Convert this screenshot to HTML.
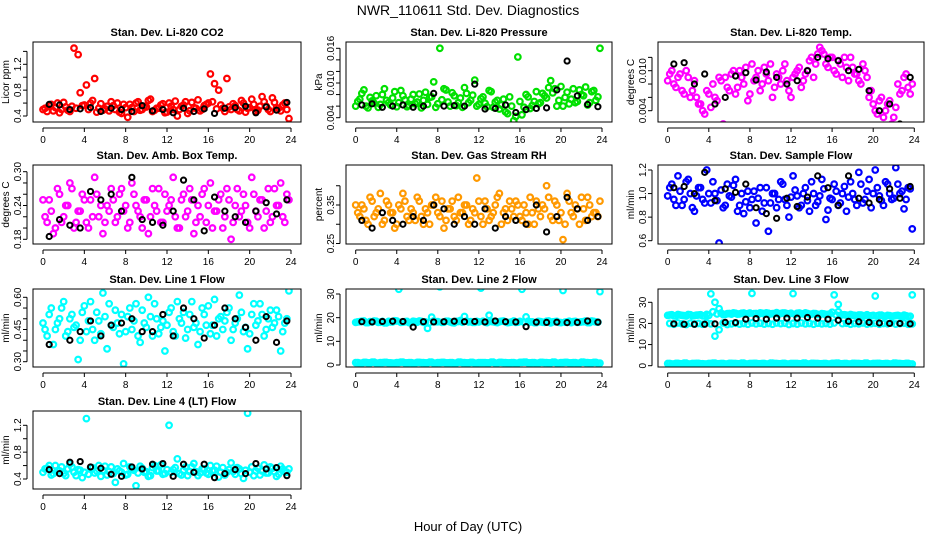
<!DOCTYPE html>
<html><head><meta charset="utf-8">
<style>
body{margin:0;background:#fff;}
svg{display:block;font-family:"Liberation Sans",Arial,sans-serif;}
</style></head>
<body>
<svg id="chart" width="936" height="540" viewBox="0 0 936 540" xmlns="http://www.w3.org/2000/svg">
<rect x="0" y="0" width="936" height="540" fill="#fff"/>
<text x="468" y="15" text-anchor="middle" font-size="14">NWR_110611  Std. Dev. Diagnostics</text>
<text x="468" y="531" text-anchor="middle" font-size="13">Hour of Day (UTC)</text>
</svg>
<script>
const hoursColored = [0.2,0.6,1.0,1.4,1.8,2.2,2.6,3.0,3.4,3.8,4.2,4.6,5.0,5.4,5.8,6.2,6.6,7.0,7.4,7.8,8.2,8.6,9.0,9.4,9.8,10.2,10.6,11.0,11.4,11.8,12.2,12.6,13.0,13.4,13.8,14.2,14.6,15.0,15.4,15.8,16.2,16.6,17.0,17.4,17.8,18.2,18.6,19.0,19.4,19.8,20.2,20.6,21.0,21.4,21.8,22.2,22.6,23.0,23.4,23.8];
const hoursColored2 = [0.0,0.4,0.8,1.2,1.6,2.0,2.4,2.8,3.2,3.6,4.0,4.4,4.8,5.2,5.6,6.0,6.4,6.8,7.2,7.6,8.0,8.4,8.8,9.2,9.6,10.0,10.4,10.8,11.2,11.6,12.0,12.4,12.8,13.2,13.6,14.0,14.4,14.8,15.2,15.6,16.0,16.4,16.8,17.2,17.6,18.0,18.4,18.8,19.2,19.6,20.0,20.4,20.8,21.2,21.6,22.0,22.4,22.8,23.2,23.6];
const hoursBlack = [0.6,1.6,2.6,3.6,4.6,5.6,6.6,7.6,8.6,9.6,10.6,11.6,12.6,13.6,14.6,15.6,16.6,17.6,18.6,19.6,20.6,21.6,22.6,23.6];
const xTicks = [0,4,8,12,16,20,24];

const co2 = [0.52,0.56,0.48,0.60,0.50,0.54,0.47,1.45,1.35,0.56,0.88,0.60,0.98,0.52,0.49,0.55,0.62,0.50,0.46,0.58,0.38,0.53,0.60,0.49,0.55,0.64,0.47,0.52,0.57,0.45,0.60,0.50,0.40,0.55,0.62,0.48,0.53,0.65,0.50,0.58,1.05,0.90,0.80,0.52,0.98,0.50,0.56,0.48,0.60,0.52,0.66,0.47,0.55,0.62,0.50,0.68,0.53,0.48,0.60,0.36];
const co2b = [0.50,0.47,0.58,0.53,0.45,0.61,0.49,0.55,0.52,0.76,0.57,0.50,0.64,0.46,0.59,0.51,0.48,0.56,0.60,0.44,0.53,0.58,0.47,0.62,0.50,0.54,0.66,0.49,0.52,0.59,0.46,0.55,0.63,0.50,0.57,0.44,0.61,0.52,0.48,0.56,0.60,0.62,0.51,0.57,0.47,0.54,0.59,0.50,0.64,0.46,0.53,0.58,0.49,0.70,0.55,0.47,0.61,0.52,0.57,0.50];
const co2B = [0.58,0.57,0.50,0.51,0.53,0.47,0.52,0.50,0.47,0.56,0.48,0.50,0.45,0.52,0.47,0.51,0.44,0.52,0.53,0.55,0.45,0.54,0.49,0.61];
const pres = [0.0068,0.0082,0.0060,0.0075,0.0065,0.0058,0.0080,0.0070,0.0062,0.0085,0.0066,0.0078,0.0059,0.0072,0.0064,0.0081,0.0070,0.0063,0.0076,0.0058,0.0160,0.0090,0.0067,0.0083,0.0061,0.0074,0.0092,0.0066,0.0079,0.0060,0.0073,0.0065,0.0087,0.0058,0.0070,0.0062,0.0050,0.0076,0.0035,0.0145,0.0045,0.0080,0.0056,0.0068,0.0064,0.0082,0.0074,0.0104,0.0090,0.0070,0.0060,0.0084,0.0072,0.0066,0.0088,0.0078,0.0062,0.0085,0.0070,0.0160];
const pres2 = [0.0060,0.0072,0.0088,0.0057,0.0069,0.0078,0.0063,0.0090,0.0066,0.0074,0.0059,0.0087,0.0071,0.0061,0.0080,0.0067,0.0057,0.0084,0.0075,0.0102,0.0064,0.0071,0.0088,0.0060,0.0078,0.0066,0.0058,0.0082,0.0070,0.0105,0.0063,0.0076,0.0059,0.0085,0.0067,0.0055,0.0072,0.0047,0.0060,0.0042,0.0068,0.0058,0.0076,0.0061,0.0085,0.0066,0.0078,0.0092,0.0083,0.0060,0.0094,0.0075,0.0064,0.0090,0.0068,0.0080,0.0093,0.0066,0.0087,0.0076];
const presB = [0.0062,0.0064,0.0058,0.0060,0.0062,0.0058,0.0060,0.0082,0.0060,0.0061,0.0060,0.0098,0.0055,0.0056,0.0062,0.0049,0.0054,0.0056,0.0057,0.0088,0.0138,0.0078,0.0063,0.0059];
const ltemp = [0.0095,0.0080,0.0090,0.0070,0.0100,0.0060,0.0085,0.0050,0.0040,0.0070,0.0045,0.0060,0.0090,0.0020,0.0075,0.0095,0.0065,0.0100,0.0080,0.0055,0.0110,0.0090,0.0070,0.0105,0.0085,0.0060,0.0095,0.0080,0.0110,0.0070,0.0090,0.0100,0.0075,0.0095,0.0115,0.0090,0.0125,0.0130,0.0110,0.0120,0.0100,0.0115,0.0090,0.0105,0.0120,0.0095,0.0085,0.0110,0.0090,0.0070,0.0040,0.0055,0.0030,0.0050,0.0020,0.0045,0.0065,0.0090,0.0075,0.0080];
const ltemp2 = [0.0085,0.0100,0.0075,0.0095,0.0065,0.0090,0.0070,0.0060,0.0050,0.0035,0.0065,0.0080,0.0055,0.0085,0.0090,0.0070,0.0100,0.0075,0.0090,0.0105,0.0065,0.0085,0.0100,0.0080,0.0095,0.0110,0.0075,0.0090,0.0100,0.0085,0.0060,0.0095,0.0105,0.0085,0.0100,0.0120,0.0110,0.0135,0.0125,0.0105,0.0120,0.0095,0.0110,0.0120,0.0085,0.0105,0.0095,0.0080,0.0100,0.0060,0.0050,0.0035,0.0060,0.0040,0.0055,0.0030,0.0080,0.0070,0.0095,0.0065];
const ltempB = [0.0110,0.0112,0.0080,0.0095,0.0050,0.0060,0.0092,0.0097,0.0086,0.0098,0.0090,0.0080,0.0085,0.0100,0.0120,0.0118,0.0115,0.0100,0.0102,0.0070,0.0040,0.0050,0.0020,0.0090];
const amb = [0.22,0.25,0.19,0.27,0.21,0.24,0.28,0.20,0.23,0.26,0.21,0.25,0.29,0.22,0.19,0.24,0.27,0.21,0.26,0.23,0.20,0.28,0.24,0.22,0.25,0.19,0.27,0.23,0.21,0.26,0.24,0.29,0.20,0.25,0.22,0.27,0.19,0.24,0.26,0.21,0.28,0.23,0.25,0.20,0.27,0.18,0.24,0.22,0.26,0.21,0.29,0.23,0.25,0.20,0.27,0.22,0.24,0.28,0.21,0.25];
const amb2 = [0.25,0.21,0.23,0.20,0.26,0.22,0.24,0.27,0.21,0.23,0.25,0.20,0.22,0.26,0.24,0.21,0.23,0.25,0.22,0.27,0.24,0.21,0.26,0.23,0.20,0.25,0.22,0.24,0.27,0.21,0.23,0.25,0.22,0.20,0.26,0.23,0.25,0.21,0.22,0.27,0.24,0.20,0.23,0.26,0.22,0.25,0.21,0.27,0.23,0.24,0.20,0.26,0.22,0.25,0.23,0.21,0.27,0.24,0.22,0.26];
const ambB = [0.185,0.215,0.205,0.200,0.265,0.250,0.260,0.230,0.290,0.215,0.210,0.205,0.230,0.285,0.250,0.195,0.255,0.230,0.220,0.210,0.230,0.245,0.225,0.250];
const rh = [0.33,0.35,0.31,0.37,0.32,0.34,0.30,0.36,0.33,0.29,0.35,0.38,0.32,0.34,0.31,0.36,0.30,0.33,0.35,0.37,0.32,0.29,0.34,0.36,0.31,0.33,0.35,0.30,0.34,0.42,0.32,0.36,0.31,0.33,0.37,0.30,0.34,0.36,0.32,0.35,0.31,0.33,0.37,0.30,0.34,0.35,0.40,0.32,0.36,0.31,0.26,0.38,0.33,0.35,0.30,0.34,0.37,0.32,0.33,0.36];
const rh2 = [0.35,0.32,0.34,0.30,0.36,0.33,0.38,0.31,0.35,0.33,0.30,0.34,0.36,0.31,0.33,0.37,0.32,0.34,0.30,0.35,0.33,0.36,0.31,0.34,0.32,0.37,0.33,0.35,0.31,0.33,0.36,0.30,0.34,0.32,0.35,0.38,0.33,0.31,0.34,0.36,0.32,0.35,0.30,0.33,0.36,0.32,0.34,0.37,0.31,0.35,0.33,0.30,0.36,0.32,0.34,0.37,0.31,0.35,0.33,0.32];
const rhB = [0.31,0.29,0.33,0.31,0.30,0.32,0.31,0.35,0.34,0.30,0.32,0.30,0.34,0.29,0.32,0.31,0.30,0.35,0.28,0.32,0.37,0.34,0.31,0.32];
const sflow = [1.05,0.95,1.15,0.90,1.10,1.00,0.85,1.05,0.95,1.20,0.92,1.00,0.58,0.88,1.08,0.97,1.12,0.90,0.83,1.02,0.95,0.75,1.05,0.92,0.68,1.00,0.88,1.10,0.95,0.80,1.15,0.98,0.90,1.05,0.85,1.00,0.93,1.12,0.78,0.96,1.08,0.90,1.00,0.85,1.10,0.95,1.18,0.92,1.02,0.88,1.20,0.98,0.90,1.08,0.95,1.22,1.00,0.87,1.05,0.70];
const sflow2 = [0.98,1.08,0.90,1.02,0.95,1.12,0.88,0.98,1.05,0.92,1.00,1.10,0.94,1.03,0.90,0.98,1.07,0.85,1.00,0.93,0.88,1.02,0.96,0.85,1.05,0.92,1.00,0.95,1.08,0.90,0.97,1.03,0.88,1.00,0.94,1.10,0.90,0.98,1.04,0.86,0.95,1.02,0.92,1.06,0.97,1.00,0.90,1.08,0.95,1.12,1.00,1.05,0.94,1.10,1.00,0.96,1.08,1.02,0.95,1.04];
const sflowB = [1.05,1.06,1.00,1.18,0.94,1.04,1.01,1.08,0.88,0.83,0.79,0.96,0.89,0.97,1.15,1.05,0.90,1.15,0.96,0.92,0.95,1.04,0.96,1.06];
const line1 = [0.45,0.52,0.38,0.48,0.55,0.42,0.50,0.46,0.31,0.53,0.44,0.58,0.40,0.49,0.62,0.36,0.47,0.54,0.43,0.29,0.51,0.45,0.57,0.39,0.48,0.60,0.42,0.50,0.46,0.35,0.53,0.44,0.58,0.48,0.41,0.52,0.46,0.38,0.55,0.47,0.43,0.59,0.50,0.45,0.53,0.40,0.48,0.61,0.44,0.36,0.52,0.47,0.57,0.42,0.50,0.46,0.54,0.35,0.48,0.63];
const line1b = [0.48,0.42,0.55,0.45,0.50,0.58,0.44,0.52,0.47,0.40,0.56,0.49,0.45,0.53,0.43,0.51,0.57,0.46,0.48,0.52,0.44,0.55,0.49,0.42,0.54,0.46,0.51,0.57,0.43,0.49,0.47,0.55,0.42,0.50,0.53,0.45,0.58,0.48,0.44,0.52,0.56,0.47,0.42,0.51,0.49,0.55,0.45,0.50,0.53,0.46,0.43,0.57,0.49,0.52,0.45,0.54,0.48,0.51,0.44,0.50];
const line1B = [0.38,0.66,0.40,0.44,0.49,0.42,0.47,0.48,0.50,0.44,0.44,0.52,0.42,0.55,0.50,0.41,0.47,0.55,0.50,0.46,0.40,0.51,0.39,0.49];
const line2Hi = [18.2,18.5,17.9,18.3,18.6,18.0,18.4,17.8,18.2,18.7,32.0,18.1,18.4,17.9,18.3,18.6,18.0,15.5,20.2,18.3,33.0,18.1,18.5,17.9,18.4,18.8,20.5,18.2,18.0,18.4,32.5,18.1,21.0,18.3,17.9,18.5,18.2,18.0,18.6,18.1,32.0,20.3,18.2,17.9,18.4,18.1,18.5,17.8,18.3,18.0,31.5,18.2,17.9,18.4,18.1,18.3,17.9,18.6,18.2,31.0];
const line2Hi2 = [18.0,18.3,18.6,17.9,18.2,18.5,18.1,17.8,18.4,18.2,18.6,18.0,18.3,17.9,18.5,18.1,18.4,18.2,17.9,18.6,18.3,18.0,18.5,18.2,17.8,18.4,18.1,18.6,18.3,18.0,18.2,18.5,17.9,18.4,18.1,18.3,18.6,17.9,18.2,18.0,18.4,18.1,18.5,18.2,17.9,18.3,18.0,18.6,18.2,18.4,17.9,18.1,18.5,18.3,18.0,18.2,18.6,17.9,18.4,18.1];
const line2Lo = [1.0,0.8,1.1,0.9,1.2,0.8,1.0,1.1,0.9,0.8,1.0,1.2,0.9,1.0,0.8,1.1,1.0,0.9,1.2,0.8,1.0,1.1,0.9,1.0,0.8,1.2,1.0,0.9,1.1,0.8,1.0,1.0,0.9,1.2,0.8,1.1,1.0,0.9,1.0,0.8,1.1,1.2,0.9,1.0,0.8,1.1,1.0,0.9,1.2,0.8,1.0,1.1,0.9,1.0,0.8,1.2,1.0,0.9,1.1,0.8];
const line2B = [18.3,18.2,18.4,18.5,18.4,16.0,18.3,18.2,18.3,18.5,18.3,18.4,18.2,18.6,18.3,18.2,16.2,18.1,18.0,18.1,17.9,18.0,18.6,18.1];
const line3Hi = [24.0,23.6,24.2,23.8,23.5,24.1,23.7,24.0,23.6,24.3,34.0,30.0,27.0,24.2,24.6,24.4,24.8,24.5,24.9,24.6,34.2,24.7,25.0,24.5,24.8,24.6,25.1,24.7,24.9,24.5,34.1,24.8,24.6,25.0,24.4,24.7,24.3,24.6,24.2,24.5,33.5,29.0,24.1,23.9,24.2,23.8,24.0,23.7,24.1,23.6,33.0,23.9,23.5,23.8,23.4,23.7,23.5,23.9,23.3,33.5];
const line3Hi2 = [23.8,24.1,23.5,24.0,23.7,24.2,23.6,23.9,24.1,23.5,23.8,25.5,24.5,24.9,24.3,24.7,25.0,24.4,24.8,24.5,24.9,24.6,24.3,24.8,25.0,24.5,24.7,24.4,24.9,24.6,24.8,24.3,24.9,24.5,24.7,24.4,24.6,24.2,24.5,24.3,25.3,24.0,23.8,24.1,23.7,23.9,23.6,24.0,23.7,23.5,23.8,23.6,23.9,23.4,23.7,23.5,23.8,23.3,23.6,23.4];
const line3Mid = [20.0,19.6,20.2,19.8,19.5,20.1,19.7,20.0,19.6,20.3,19.8,14.0,17.0,20.2,19.5,19.8,20.1,19.7,20.0,19.6,20.2,19.8,20.1,19.7,20.0,19.6,20.2,19.9,20.1,19.5,20.0,19.7,20.2,19.8,20.0,19.6,20.1,19.8,20.0,19.7,20.2,25.5,19.9,20.1,19.6,20.0,19.8,20.2,19.7,19.9,20.1,19.6,20.0,19.8,20.2,19.7,19.9,20.1,19.6,19.8];
const line3Lo = [1.0,0.8,1.1,0.9,1.2,0.8,1.0,1.1,0.9,0.8,1.0,1.2,0.9,1.0,0.8,1.1,1.0,0.9,1.2,0.8,1.0,1.1,0.9,1.0,0.8,1.2,1.0,0.9,1.1,0.8,1.0,1.0,0.9,1.2,0.8,1.1,1.0,0.9,1.0,0.8,1.1,1.2,0.9,1.0,0.8,1.1,1.0,0.9,1.2,0.8,1.0,1.1,0.9,1.0,0.8,1.2,1.0,0.9,1.1,0.8];
const line3B = [19.8,19.6,19.6,19.6,19.8,20.5,20.4,22.0,22.3,22.0,22.5,22.5,22.5,22.8,22.5,22.0,21.5,21.0,20.8,20.5,20.2,20.0,20.0,19.8];
const line4 = [0.55,0.60,0.48,0.52,0.58,0.45,0.62,0.50,0.54,0.42,1.30,0.57,0.49,0.60,0.53,0.46,0.58,0.35,0.52,0.63,0.47,0.55,0.30,0.59,0.50,0.44,0.57,0.52,0.61,0.48,1.20,0.54,0.70,0.46,0.58,0.51,0.63,0.45,0.55,0.49,0.60,0.53,0.43,0.57,0.50,0.64,0.47,0.55,0.41,1.38,0.58,0.52,0.46,0.61,0.49,0.56,0.44,0.59,0.51,0.55];
const line4b = [0.50,0.56,0.46,0.60,0.52,0.48,0.55,0.58,0.45,0.53,0.50,0.47,0.57,0.52,0.44,0.59,0.51,0.48,0.55,0.50,0.46,0.58,0.53,0.49,0.56,0.51,0.45,0.60,0.52,0.47,0.54,0.50,0.57,0.48,0.53,0.45,0.58,0.51,0.49,0.55,0.47,0.52,0.59,0.50,0.46,0.54,0.51,0.57,0.48,0.53,0.50,0.45,0.56,0.52,0.49,0.58,0.51,0.47,0.55,0.50];
const line4B = [0.54,0.48,0.65,0.66,0.58,0.56,0.47,0.44,0.58,0.55,0.62,0.63,0.44,0.62,0.50,0.62,0.42,0.48,0.54,0.48,0.63,0.55,0.57,0.45];

const yTicksCO2 = [0.4,0.6,0.8,1.0,1.2,1.4];
const yLabCO2 = ["0.4","","0.8","","1.2",""];
const yTicksPres = [0.004,0.006,0.008,0.010,0.012,0.014,0.016];
const yLabPres = ["0.004","","","0.010","","","0.016"];
const yTicksTemp = [0.004,0.006,0.008,0.010,0.012];
const yLabTemp = ["0.004","","","0.010",""];
const yTicksAmb = [0.18,0.20,0.22,0.24,0.26,0.28,0.30];
const yLabAmb = ["0.18","","","0.24","","","0.30"];
const yTicksRH = [0.25,0.30,0.35,0.40];
const yLabRH = ["0.25","","0.35",""];
const yTicksFlow = [0.6,0.8,1.0,1.2];
const yLabFlow = ["0.6","0.8","1.0","1.2"];
const yTicksL1 = [0.30,0.35,0.40,0.45,0.50,0.55,0.60];
const yLabL1 = ["0.30","","","0.45","","","0.60"];
const yTicksL2 = [0,10,20,30];
const yLabL2 = ["0","10","20","30"];
const yTicksL4 = [0.4,0.6,0.8,1.0,1.2];
const yLabL4 = ["0.4","","0.8","","1.2"];

const svg = document.getElementById('chart');
const NS = 'http://www.w3.org/2000/svg';
function mk(tag, attrs, parent){
  const e = document.createElementNS(NS, tag);
  for (const k in attrs) e.setAttribute(k, attrs[k]);
  (parent||svg).appendChild(e);
  return e;
}
const cols = [{l:33,r:301,x0:43,x24:291},{l:346,r:612,x0:355.7,x24:602},{l:658,r:924,x0:667.7,x24:914.3}];
const rows = [{t:42,b:122},{t:165,b:244},{t:289,b:367},{t:411,b:489}];

function panel(key, c, r, title, ylab, cal, yt, yl, series, black){
  const C = cols[c], R = rows[r];
  const g = mk('g', {});
  
  
  const xs = h => C.x0 + (C.x24 - C.x0) * h / 24;
  const ys = v => cal[1] + (v - cal[0]) * (cal[3] - cal[1]) / (cal[2] - cal[0]);
  const clip = mk('clipPath', {id: 'clip-' + key}, g);
  mk('rect', {x: C.l, y: R.t, width: C.r - C.l, height: R.b - R.t}, clip);
  const pts = mk('g', {'clip-path': 'url(#clip-' + key + ')'}, g);
  
  
  series.forEach(s => {
    s.vals.forEach((v, i) => {
      const p = mk('circle', {cx: xs(s.hours[i]), cy: ys(v), r: 2.8, fill: 'none', stroke: s.color, 'stroke-width': 2.2}, pts);
      
      
    });
  });
  black.forEach((v, i) => {
    const p = mk('circle', {cx: xs(hoursBlack[i]), cy: ys(v), r: 2.6, fill: 'none', stroke: '#000', 'stroke-width': 2}, pts);
    
    
  });
  const box = mk('rect', {x: C.l, y: R.t, width: C.r - C.l, height: R.b - R.t, fill: 'none', stroke: '#000', 'stroke-width': 1}, g);
  
  
  const t = mk('text', {x: (C.l + C.r) / 2, y: R.t - 6, 'text-anchor': 'middle', 'font-size': 11, 'font-weight': 'bold'}, g);
  t.textContent = title;
  
  
  const yt2 = mk('text', {transform: 'translate(' + (C.l - 24) + ',' + ((R.t + R.b) / 2) + ') rotate(-90)', 'text-anchor': 'middle', 'font-size': 10}, g);
  yt2.textContent = ylab;
  
  
  const xa = mk('line', {x1: xs(0), x2: xs(24), y1: R.b + 6, y2: R.b + 6, stroke: '#000'}, g);
  
  
  xTicks.forEach(h => {
    mk('line', {x1: xs(h), x2: xs(h), y1: R.b + 6, y2: R.b + 10, stroke: '#000'}, g);
    const lt = mk('text', {x: xs(h), y: R.b + 21, 'text-anchor': 'middle', 'font-size': 10}, g);
    lt.textContent = h;
    
    
  });
  const ax = C.l - 6;
  const ya = mk('line', {x1: ax, x2: ax, y1: ys(yt[0]), y2: ys(yt[yt.length - 1]), stroke: '#000'}, g);
  
  
  yt.forEach((v, i) => {
    mk('line', {x1: ax - 4, x2: ax, y1: ys(v), y2: ys(v), stroke: '#000'}, g);
    if (yl[i]) {
      const lt = mk('text', {transform: 'translate(' + (ax - 6) + ',' + ys(v) + ') rotate(-90)', 'text-anchor': 'middle', 'font-size': 10}, g);
      lt.textContent = yl[i];
      
      
    }
  });
}

const H1 = hoursColored, H2 = hoursColored2;
panel('co2', 0, 0, 'Stan. Dev. Li-820 CO2', 'Licor ppm', [0.4,116,1.2,64.3], yTicksCO2, yLabCO2, [{vals: co2b, hours: H2, color: '#ff0000'}, {vals: co2, hours: H1, color: '#ff0000'}], co2B);
panel('pressure', 1, 0, 'Stan. Dev. Li-820 Pressure', 'kPa', [0.016,48.3,0.004,117.7], yTicksPres, yLabPres, [{vals: pres2, hours: H2, color: '#00e000'}, {vals: pres, hours: H1, color: '#00e000'}], presB);
panel('li820-temp', 2, 0, 'Stan. Dev. Li-820 Temp.', 'degrees C', [0.010,70.7,0.004,110.7], yTicksTemp, yLabTemp, [{vals: ltemp2, hours: H2, color: '#ff00ff'}, {vals: ltemp, hours: H1, color: '#ff00ff'}], ltempB);
panel('amb-box-temp', 0, 1, 'Stan. Dev. Amb. Box Temp.', 'degrees C', [0.30,171.7,0.18,239.3], yTicksAmb, yLabAmb, [{vals: amb2, hours: H2, color: '#ff00ff'}, {vals: amb, hours: H1, color: '#ff00ff'}], ambB);
panel('gas-rh', 1, 1, 'Stan. Dev. Gas Stream RH', 'percent', [0.35,205,0.25,243.5], yTicksRH, yLabRH, [{vals: rh2, hours: H2, color: '#ff9900'}, {vals: rh, hours: H1, color: '#ff9900'}], rhB);
panel('sample-flow', 2, 1, 'Stan. Dev. Sample Flow', 'ml/min', [1.2,170,0.6,240.7], yTicksFlow, yLabFlow, [{vals: sflow2, hours: H2, color: '#0000ff'}, {vals: sflow, hours: H1, color: '#0000ff'}], sflowB);
panel('line1-flow', 0, 2, 'Stan. Dev. Line 1 Flow', 'ml/min', [0.60,297.3,0.30,361.7], yTicksL1, yLabL1, [{vals: line1b, hours: H2, color: '#00ffff'}, {vals: line1, hours: H1, color: '#00ffff'}], line1B);
panel('line2-flow', 1, 2, 'Stan. Dev. Line 2 Flow', 'ml/min', [30,294,0,365], yTicksL2, yLabL2, [{vals: line2Hi, hours: H1, color: '#00ffff'}, {vals: line2Hi2, hours: H2, color: '#00ffff'}, {vals: line2Lo, hours: H1, color: '#00ffff'}, {vals: line2Lo, hours: H2, color: '#00ffff'}], line2B);
panel('line3-flow', 2, 2, 'Stan. Dev. Line 3 Flow', 'ml/min', [30,302.3,0,365.7], yTicksL2, yLabL2, [{vals: line3Hi, hours: H1, color: '#00ffff'}, {vals: line3Hi2, hours: H2, color: '#00ffff'}, {vals: line3Mid, hours: H1, color: '#00ffff'}, {vals: line3Lo, hours: H1, color: '#00ffff'}, {vals: line3Lo, hours: H2, color: '#00ffff'}], line3B);
panel('line4-flow', 0, 3, 'Stan. Dev. Line 4 (LT) Flow', 'ml/min', [1.2,425.3,0.4,479], yTicksL4, yLabL4, [{vals: line4b, hours: H2, color: '#00ffff'}, {vals: line4, hours: H1, color: '#00ffff'}], line4B);
</script>
</body></html>
